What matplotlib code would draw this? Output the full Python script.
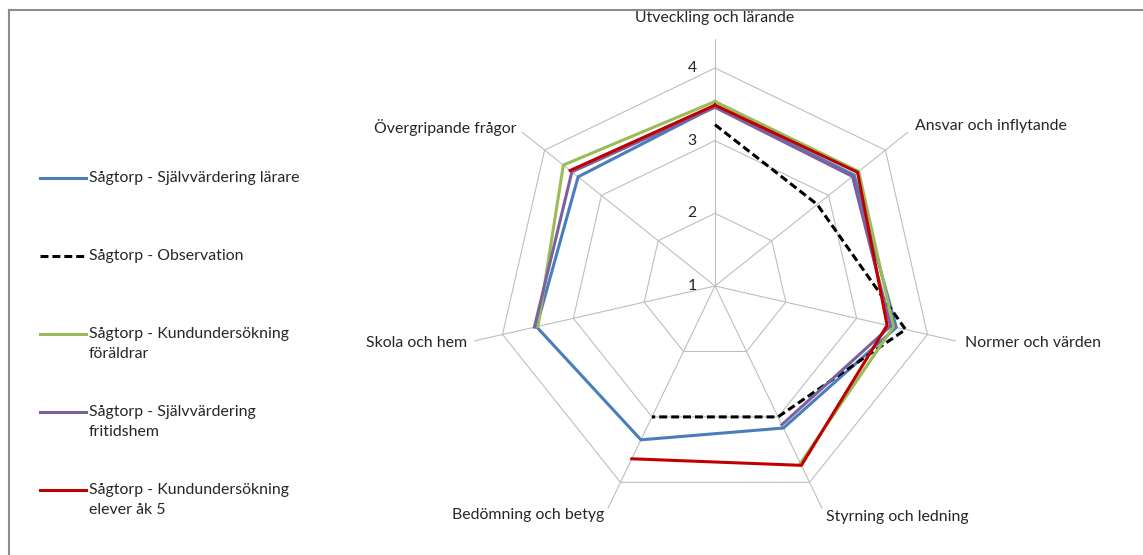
import numpy as np
import matplotlib
matplotlib.use('Agg')
import matplotlib.pyplot as plt
from matplotlib.lines import Line2D

plt.rcParams['font.family'] = ['Lato', 'DejaVu Sans']

categories = ['Utveckling och lärande', 'Ansvar och inflytande', 'Normer och värden',
              'Styrning och ledning', 'Bedömning och betyg', 'Skola och hem',
              'Övergripande frågor']

nan = np.nan
larare = [3.47, 3.45, 3.56, 3.17, 3.35, 3.52, 3.41]
observation = [3.22, 2.80, 3.69, 3.00, 3.00, nan, nan]
foraldrar = [3.54, 3.53, 3.52, 3.71, nan, 3.50, 3.67]
fritidshem = [3.46, 3.42, 3.48, 3.12, nan, 3.55, 3.52]
elever = [3.49, 3.51, 3.43, 3.74, 3.64, nan, 3.55]

series_labels = ['Sågtorp - Självvärdering lärare',
                 'Sågtorp - Observation',
                 'Sågtorp - Kundundersökning\nföräldrar',
                 'Sågtorp - Självvärdering\nfritidshem',
                 'Sågtorp - Kundundersökning\nelever åk 5']
series_values = [larare, observation, foraldrar, fritidshem, elever]
series_colors = ['#4A7EBB', '#000000', '#9BBB59', '#7D60A0', '#C00000']
series_styles = ['-', (0, (2.6, 1.3)), '-', '-', '-']

ring_values = [2, 3, 4]
r_min, r_max = 1, 4.4

W, H = 1143, 555
fig = plt.figure(figsize=(W / 100, H / 100), dpi=100)

# chart centre and outer radius in pixels
cx, cy, R = 715, 286, 247
ax = fig.add_axes([(cx - R) / W, (H - cy - R) / H, 2 * R / W, 2 * R / H], projection='polar')
ax.set_theta_zero_location('N')
ax.set_theta_direction(-1)
ax.set_ylim(r_min, r_max)
ax.set_axis_off()

n = len(categories)
theta = np.arange(n) * 2 * np.pi / n
theta_c = np.append(theta, theta[0])

grid_col = '#BEBEBE'
for t in theta:
    ax.plot([t, t], [r_min, r_max], color=grid_col, lw=0.8, zorder=1)
for v in ring_values:
    ax.plot(theta_c, [v] * (n + 1), color=grid_col, lw=0.8, zorder=1)

for vals, col, ls in zip(series_values, series_colors, series_styles):
    ax.plot(theta_c, vals + [vals[0]], color=col, ls=ls, lw=2.2, zorder=3)

text_col = '#262626'
fs = 11.4
for i, (t, lab) in enumerate(zip(theta, categories)):
    if i == 0:
        ax.text(t, 4.69, lab, ha='center', va='center', fontsize=fs, color=text_col)
    elif i <= 3:
        ax.text(t, 4.53, lab, ha='left', va='center', fontsize=fs, color=text_col)
    else:
        ax.text(t, 4.50, lab, ha='right', va='center', fontsize=fs, color=text_col)

for v in [1] + ring_values:
    ax.annotate(str(v), xy=(0, v), xytext=(-16.5, 0), textcoords='offset points',
                ha='center', va='center', fontsize=fs, color=text_col)

# legend on the left
for k, (lab, col, ls) in enumerate(zip(series_labels, series_colors, series_styles)):
    y = 178 + k * 78
    fig.add_artist(Line2D([40 / W, 86 / W], [1 - y / H, 1 - y / H], color=col, ls=ls, lw=2.2))
    for j, part in enumerate(lab.split('\n')):
        fig.text(89 / W, 1 - (y + j * 20.5) / H, part, ha='left', va='center',
                 fontsize=fs, color=text_col)

# frame of the chart area (only top and left show)
fig.add_artist(Line2D([9 / W, 1], [1 - 10 / H, 1 - 10 / H], color='#8C8C8C', lw=1.5))
fig.add_artist(Line2D([9 / W, 9 / W], [0, 1 - 10 / H], color='#8C8C8C', lw=1.5))

fig.savefig('out.png', dpi=100, facecolor='white')
